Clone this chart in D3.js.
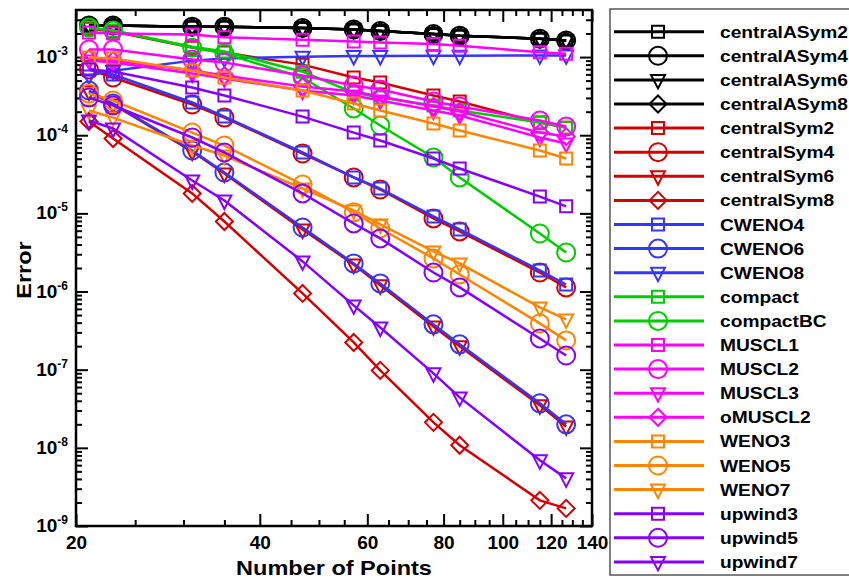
<!DOCTYPE html>
<html>
<head>
<meta charset="utf-8">
<script src="https://cdn.jsdelivr.net/npm/d3@7"></script>
<style>
  body { margin: 0; background: #fff; }
  text { font-family: "Liberation Sans", Arial, sans-serif; font-weight: bold; }
</style>
</head>
<body>
<div id="chart"></div>
<script>
// grid sizes (x) and errors per scheme (y)
const points = [21, 23, 31, 35, 47, 57, 63, 77, 85, 115, 127];

const centralASym2 = [2.53e-3, 2.53e-3, 2.45e-3, 2.45e-3, 2.35e-3, 2.25e-3, 2.15e-3, 1.97e-3, 1.88e-3, 1.72e-3, 1.63e-3];
const centralASym4 = [2.53e-3, 2.53e-3, 2.45e-3, 2.45e-3, 2.35e-3, 2.25e-3, 2.15e-3, 1.97e-3, 1.88e-3, 1.72e-3, 1.63e-3];
const centralASym6 = [2.53e-3, 2.53e-3, 2.45e-3, 2.45e-3, 2.35e-3, 2.25e-3, 2.15e-3, 1.97e-3, 1.88e-3, 1.72e-3, 1.63e-3];
const centralASym8 = [2.53e-3, 2.53e-3, 2.45e-3, 2.45e-3, 2.35e-3, 2.25e-3, 2.15e-3, 1.97e-3, 1.88e-3, 1.72e-3, 1.63e-3];
const centralSym2 = [2.31e-3, 2.12e-3, 1.32e-3, 1.14e-3, 8.0e-4, 5.47e-4, 4.72e-4, 3.22e-4, 2.70e-4, 1.45e-4, 1.25e-4];
const centralSym4 = [6.92e-4, 5.47e-4, 2.47e-4, 1.68e-4, 5.83e-5, 2.88e-5, 2.02e-5, 8.61e-6, 5.87e-6, 1.75e-6, 1.13e-6];
const centralSym6 = [3.62e-4, 2.47e-4, 6.19e-5, 3.24e-5, 6.22e-6, 2.22e-6, 1.20e-6, 3.58e-7, 1.99e-7, 3.50e-8, 1.88e-8];
const centralSym8 = [1.50e-4, 9.07e-5, 1.80e-5, 7.87e-6, 9.45e-7, 2.23e-7, 9.79e-8, 2.12e-8, 1.08e-8, 2.13e-9, 1.68e-9];
const CWENO4 = [7.13e-4, 5.97e-4, 2.62e-4, 1.73e-4, 6.01e-5, 2.88e-5, 2.08e-5, 9.13e-6, 6.22e-6, 1.86e-6, 1.23e-6];
const CWENO6 = [3.73e-4, 2.54e-4, 6.37e-5, 3.33e-5, 6.6e-6, 2.29e-6, 1.27e-6, 3.80e-7, 2.11e-7, 3.71e-8, 2.0e-8];
const CWENO8 = [5.8e-4, 6.7e-4, 9.0e-4, 9.6e-4, 1.01e-3, 1.03e-3, 1.03e-3, 1.04e-3, 1.04e-3, 1.05e-3, 1.05e-3];
const compact = [2.38e-3, 2.18e-3, 1.36e-3, 1.18e-3, 6.5e-4, 3.5e-4, 3.03e-4, 2.40e-4, 2.07e-4, 1.45e-4, 1.25e-4];
const compactBC = [2.38e-3, 2.18e-3, 1.32e-3, 1.11e-3, 5.47e-4, 2.20e-4, 1.33e-4, 5.19e-5, 2.88e-5, 5.53e-6, 3.16e-6];
const MUSCL1 = [2.06e-3, 2.0e-3, 1.94e-3, 1.79e-3, 1.66e-3, 1.58e-3, 1.53e-3, 1.47e-3, 1.40e-3, 1.15e-3, 1.10e-3];
const MUSCL2 = [1.25e-3, 1.25e-3, 9.3e-4, 8.5e-4, 5.8e-4, 4.32e-4, 3.84e-4, 2.70e-4, 2.33e-4, 1.54e-4, 1.29e-4];
const MUSCL3 = [9.02e-4, 8.5e-4, 6.15e-4, 5.31e-4, 3.73e-4, 3.22e-4, 2.78e-4, 2.07e-4, 1.79e-4, 9.35e-5, 7.83e-5];
const oMUSCL2 = [9.57e-4, 9.02e-4, 6.72e-4, 5.8e-4, 4.2e-4, 3.62e-4, 3.13e-4, 2.33e-4, 2.01e-4, 1.08e-4, 9.6e-5];
const WENO3 = [9.85e-4, 9.57e-4, 6.72e-4, 5.47e-4, 3.73e-4, 2.54e-4, 2.07e-4, 1.41e-4, 1.15e-4, 6.37e-5, 5.04e-5];
const WENO5 = [3.41e-4, 2.78e-4, 1.08e-4, 7.38e-5, 2.34e-5, 1.03e-5, 6.41e-6, 2.65e-6, 1.65e-6, 3.91e-7, 2.37e-7];
const WENO7 = [2.07e-4, 1.68e-4, 7.38e-5, 5.50e-5, 2.08e-5, 1.09e-5, 7.21e-6, 3.26e-6, 2.29e-6, 6.26e-7, 4.40e-7];
const upwind3 = [6.92e-4, 6.53e-4, 4.07e-4, 3.22e-4, 1.73e-4, 1.08e-4, 8.55e-5, 5.04e-5, 3.75e-5, 1.64e-5, 1.23e-5];
const upwind5 = [3.03e-4, 2.40e-4, 9.35e-5, 6.01e-5, 1.80e-5, 7.43e-6, 4.78e-6, 1.75e-6, 1.13e-6, 2.51e-7, 1.52e-7];
const upwind7 = [1.54e-4, 1.22e-4, 2.63e-5, 1.46e-5, 2.43e-6, 6.64e-7, 3.47e-7, 8.97e-8, 4.42e-8, 6.92e-9, 4.07e-9];

const xTicks = [20, 40, 60, 80, 100, 120, 140];
const yTicks = [1e-9, 1e-8, 1e-7, 1e-6, 1e-5, 1e-4, 1e-3];

const black = "#000000", red = "#d40000", blue = "#3535ff", green = "#00cc00",
      magenta = "#ff00ff", orange = "#ff8400", purple = "#8600ff";

const series = [
  ["centralASym2", centralASym2, black, "square"],
  ["centralASym4", centralASym4, black, "circle"],
  ["centralASym6", centralASym6, black, "triangle"],
  ["centralASym8", centralASym8, black, "diamond"],
  ["centralSym2", centralSym2, red, "square"],
  ["centralSym4", centralSym4, red, "circle"],
  ["centralSym6", centralSym6, red, "triangle"],
  ["centralSym8", centralSym8, red, "diamond"],
  ["CWENO4", CWENO4, blue, "square"],
  ["CWENO6", CWENO6, blue, "circle"],
  ["CWENO8", CWENO8, blue, "triangle"],
  ["compact", compact, green, "square"],
  ["compactBC", compactBC, green, "circle"],
  ["MUSCL1", MUSCL1, magenta, "square"],
  ["MUSCL2", MUSCL2, magenta, "circle"],
  ["MUSCL3", MUSCL3, magenta, "triangle"],
  ["oMUSCL2", oMUSCL2, magenta, "diamond"],
  ["WENO3", WENO3, orange, "square"],
  ["WENO5", WENO5, orange, "circle"],
  ["WENO7", WENO7, orange, "triangle"],
  ["upwind3", upwind3, purple, "square"],
  ["upwind5", upwind5, purple, "circle"],
  ["upwind7", upwind7, purple, "triangle"]
];

const svgWidth = 849, svgHeight = 580;
const plot = { left: 76, right: 592, top: 10, bottom: 526 };

const svg = d3.select("#chart").append("svg")
  .attr("width", svgWidth)
  .attr("height", svgHeight);

const x = d3.scaleLog().domain([20, 140]).range([plot.left, plot.right]);
const y = d3.scaleLog().domain([1e-9, 4e-3]).range([plot.bottom, plot.top]);

// minor tick values
const xMinor = d3.range(25, 140, 5).filter(v => v % 20 !== 0);
const yMinor = [];
for (let e = -9; e <= -3; e++) {
  for (let k = 2; k <= 9; k++) {
    const v = k * Math.pow(10, e);
    if (v < 4e-3) yMinor.push(v);
  }
}

function tickAxis(axisFn, scale, values, size, label) {
  return axisFn(scale).tickValues(values).tickSize(-size).tickSizeOuter(0)
    .tickFormat(label ? d3.format("d") : "").tickPadding(10);
}

const axes = svg.append("g").attr("class", "axes");

axes.append("g").attr("transform", `translate(0,${plot.bottom})`).call(tickAxis(d3.axisBottom, x, xTicks, 12, true));
axes.append("g").attr("transform", `translate(0,${plot.bottom})`).call(tickAxis(d3.axisBottom, x, xMinor, 6, false));
axes.append("g").attr("transform", `translate(0,${plot.top})`).call(tickAxis(d3.axisTop, x, xTicks, 12, false));
axes.append("g").attr("transform", `translate(0,${plot.top})`).call(tickAxis(d3.axisTop, x, xMinor, 6, false));
axes.append("g").attr("transform", `translate(${plot.left},0)`).call(tickAxis(d3.axisLeft, y, yTicks, 12, false));
axes.append("g").attr("transform", `translate(${plot.left},0)`).call(tickAxis(d3.axisLeft, y, yMinor, 6, false));
axes.append("g").attr("transform", `translate(${plot.right},0)`).call(tickAxis(d3.axisRight, y, yTicks, 12, false));
axes.append("g").attr("transform", `translate(${plot.right},0)`).call(tickAxis(d3.axisRight, y, yMinor, 6, false));

axes.selectAll(".domain").remove();
axes.selectAll(".tick line").attr("stroke", "#000").attr("stroke-width", 2);
axes.selectAll(".tick text")
  .attr("font-size", 19)
  .attr("font-family", "'Liberation Sans', Arial, sans-serif")
  .attr("font-weight", "bold")
  .attr("fill", "#000");

// y labels as 10 with superscript exponent
const yLab = svg.append("g").attr("class", "ylabels");
yTicks.forEach(v => {
  const t = yLab.append("text")
    .attr("x", plot.left - 8)
    .attr("y", y(v) + 6)
    .attr("text-anchor", "end")
    .attr("font-size", 19);
  t.append("tspan").text("10");
  t.append("tspan").attr("font-size", 12).attr("dy", -8).text(Math.round(Math.log10(v)));
});

// frame
svg.append("rect")
  .attr("x", plot.left).attr("y", plot.top)
  .attr("width", plot.right - plot.left).attr("height", plot.bottom - plot.top)
  .attr("fill", "none").attr("stroke", "#000").attr("stroke-width", 2.5);

// symbol paths
function symbolPath(kind) {
  switch (kind) {
    case "square": return "M-6,-6H6V6H-6Z";
    case "circle": return "M-9,0A9,9 0 1,0 9,0A9,9 0 1,0 -9,0Z";
    case "triangle": return "M-7,-5H7L0,8.5Z";
    case "diamond": return "M0,-8.5L8.5,0L0,8.5L-8.5,0Z";
  }
}

const line = d3.line().x(d => x(d[0])).y(d => y(d[1]));

svg.append("clipPath").attr("id", "plotclip")
  .append("rect").attr("x", plot.left).attr("y", plot.top)
  .attr("width", plot.right - plot.left).attr("height", plot.bottom - plot.top);

const marks = svg.append("g").attr("clip-path", "url(#plotclip)");

series.forEach(([name, vals, color, kind]) => {
  const pts = points.map((p, i) => [p, vals[i]]);
  const g = marks.append("g").attr("class", "series");
  g.append("path")
    .datum(pts)
    .attr("d", line)
    .attr("fill", "none")
    .attr("stroke", color)
    .attr("stroke-width", 2.5);
  g.selectAll("path.mk")
    .data(pts)
    .enter()
    .append("path")
    .attr("class", "mk")
    .attr("transform", d => `translate(${x(d[0])},${y(d[1])})`)
    .attr("d", symbolPath(kind))
    .attr("fill", "none")
    .attr("stroke", color)
    .attr("stroke-width", 2);
});

// axis titles
svg.append("text")
  .attr("transform", `translate(${(plot.left + plot.right) / 2},575) scale(1.12,1)`)
  .attr("text-anchor", "middle")
  .attr("font-size", 21)
  .text("Number of Points");

svg.append("text")
  .attr("transform", "translate(31,270) rotate(-90) scale(1.12,1)")
  .attr("text-anchor", "middle")
  .attr("font-size", 21)
  .text("Error");

// legend
const legend = svg.append("g").attr("class", "legend");
legend.append("rect")
  .attr("x", 610).attr("y", 9)
  .attr("width", 260).attr("height", 566)
  .attr("fill", "#fff").attr("stroke", "#555").attr("stroke-width", 1.5);

series.forEach(([name, vals, color, kind], i) => {
  const cy = 31.7 + i * 24.1;
  const row = legend.append("g").attr("transform", `translate(0,${cy})`);
  row.append("line")
    .attr("x1", 614).attr("x2", 704)
    .attr("stroke", color).attr("stroke-width", 3);
  row.append("path")
    .attr("transform", "translate(658,0)")
    .attr("d", symbolPath(kind))
    .attr("fill", "none").attr("stroke", color).attr("stroke-width", 2);
  row.append("text")
    .attr("transform", "translate(720,6) scale(1.13,1)")
    .attr("font-size", 17)
    .text(name);
});
</script>
</body>
</html>
